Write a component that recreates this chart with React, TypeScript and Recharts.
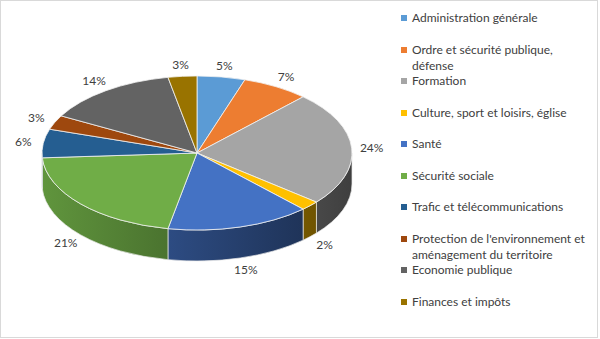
import React from 'react';
import { PieChart, Pie, Legend } from 'recharts';

const categories = [
  'Administration générale',
  'Ordre et sécurité publique, défense',
  'Formation',
  'Culture, sport et loisirs, église',
  'Santé',
  'Sécurité sociale',
  'Trafic et télécommunications',
  "Protection de l'environnement et aménagement du territoire",
  'Economie publique',
  'Finances et impôts',
];
const values = [5, 7, 24, 2, 15, 21, 6, 3, 14, 3];
const colors = ['#5B9BD5', '#ED7D31', '#A5A5A5', '#FFC000', '#4472C4', '#70AD47', '#255E91', '#9E480E', '#636363', '#997300'];
const legendLines = [
  ['Administration générale'],
  ['Ordre et sécurité publique,', 'défense'],
  ['Formation'],
  ['Culture, sport et loisirs, église'],
  ['Santé'],
  ['Sécurité sociale'],
  ['Trafic et télécommunications'],
  ["Protection de l'environnement et", 'aménagement du territoire'],
  ['Economie publique'],
  ['Finances et impôts'],
];

const data = categories.map((name, i) => ({ name, value: values[i] }));

const FONT = 'Lato, "Liberation Sans", sans-serif';
const Y_RATIO = 0.497;
const DEPTH = 31;
const RAD = Math.PI / 180;

function shade(hex: string, f: number) {
  const n = parseInt(hex.slice(1), 16);
  const r = Math.round(((n >> 16) & 255) * f);
  const g = Math.round(((n >> 8) & 255) * f);
  const b = Math.round((n & 255) * f);
  return `rgb(${r},${g},${b})`;
}

function render3D(props: any) {
  const { cx, cy, outerRadius, startAngle, endAngle, midAngle, percent, index } = props;
  const rx = outerRadius;
  const ry = outerRadius * Y_RATIO;
  const P = (a: number, dy = 0) => [cx + rx * Math.cos(a * RAD), cy - ry * Math.sin(a * RAD) + dy];
  const a1 = Math.max(startAngle, endAngle);
  const a2 = Math.min(startAngle, endAngle);
  const large = a1 - a2 > 180 ? 1 : 0;
  const p1 = P(a1);
  const p2 = P(a2);
  const top = `M${cx},${cy} L${p1[0]},${p1[1]} A${rx},${ry} 0 ${large} 1 ${p2[0]},${p2[1]} Z`;
  const s = Math.min(a1, 0);
  const e = Math.max(a2, -180);
  let side: string | null = null;
  if (s > e) {
    const q1 = P(s);
    const q2 = P(e);
    const q3 = P(e, DEPTH);
    const q4 = P(s, DEPTH);
    side = `M${q1[0]},${q1[1]} A${rx},${ry} 0 0 1 ${q2[0]},${q2[1]} L${q3[0]},${q3[1]} A${rx},${ry} 0 0 0 ${q4[0]},${q4[1]} Z`;
  }
  const c = colors[index];
  const gid = `side-grad-${index}`;
  const m = midAngle * RAD;
  const lx = cx + (rx + 20) * Math.cos(m);
  let ly = cy - (ry + 12) * Math.sin(m);
  if (Math.sin(m) < 0) ly += DEPTH;
  return (
    <g key={`s3d-${index}`}>
      <defs>
        <linearGradient id={gid} gradientUnits="userSpaceOnUse" x1={cx - rx} y1={0} x2={cx + rx} y2={0}>
          <stop offset="0" stopColor={shade(c, 0.86)} />
          <stop offset="1" stopColor={shade(c, 0.38)} />
        </linearGradient>
      </defs>
      {side && <path d={side} fill={`url(#${gid})`} stroke="#e8e8e8" strokeWidth={0.7} />}
      <path d={top} fill={c} stroke="#f2f2f2" strokeWidth={0.8} strokeLinejoin="round" />
      <text x={lx} y={ly} textAnchor="middle" dominantBaseline="central" fill="#404040" fontSize={12} fontFamily={FONT}>
        {`${Math.round(percent * 100)}%`}
      </text>
    </g>
  );
}

const renderLegend = () => (
  <div style={{ position: 'relative', width: 200, height: 330, fontFamily: FONT, fontSize: 12, color: '#404040' }}>
    {legendLines.map((lines, i) => (
      <div key={i} style={{ position: 'absolute', left: 0, top: 18 + 31.5 * i - 8, lineHeight: '16px', whiteSpace: 'nowrap' }}>
        <span style={{ position: 'absolute', left: 0, top: 5, width: 6, height: 6, background: colors[i] }} />
        <div style={{ marginLeft: 11 }}>
          {lines.map((l, j) => (
            <div key={j}>{l}</div>
          ))}
        </div>
      </div>
    ))}
  </div>
);

export default function App() {
  return (
    <div style={{ position: 'absolute', left: 0, top: 0, width: 600, height: 339, background: '#fff' }}>
      <PieChart width={600} height={339} margin={{ top: 0, right: 0, bottom: 0, left: 0 }}>
        <Pie
          data={data}
          dataKey="value"
          nameKey="name"
          cx={197}
          cy={153}
          outerRadius={155}
          startAngle={90}
          endAngle={-270}
          fill="none"
          stroke="none"
          label={render3D}
          labelLine={false}
          isAnimationActive={false}
        />
        <Legend
          layout="vertical"
          align="right"
          verticalAlign="top"
          content={renderLegend}
          wrapperStyle={{ left: 401, top: 0, width: 200, height: 330 }}
        />
      </PieChart>
      <div style={{ position: 'absolute', left: 0, top: 0, width: 598, height: 338, border: '1px solid #d9d9d9', boxSizing: 'border-box', pointerEvents: 'none' }} />
    </div>
  );
}
